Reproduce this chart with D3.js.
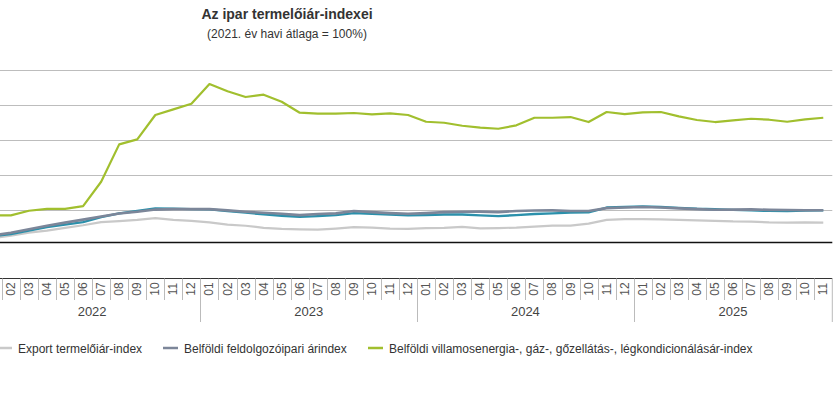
<!DOCTYPE html>
<html>
<head>
<meta charset="utf-8">
<script src="https://cdn.jsdelivr.net/npm/d3@7"></script>
<style>
  body { margin: 0; background: #fff; }
  svg { display: block; font-family: "Liberation Sans", Arial, sans-serif; }
</style>
</head>
<body>
<script>
// months Jan 2022 .. Nov 2025
var years = ["2022", "2023", "2024", "2025"];
var monthLabels = ["01","02","03","04","05","06","07","08","09","10","11","12"];
var months = [];
years.forEach(function(y) {
    monthLabels.forEach(function(m) {
        if (!(y == "2025" && m == "12")) months.push(y + "-" + m);
    });
});

var seriesNames = [
    "Export termelőiár-index",
    "Belföldi feldolgozóipari árindex",
    "Belföldi villamosenergia-, gáz-, gőzellátás-, légkondicionálásár-index"
];

var exportIdx = [109.3, 112.9, 117.1, 120, 124, 127.6, 132.1, 133.6, 135.4, 137.9, 135.4, 134,
    131.7, 128.6, 126.9, 124, 122.4, 121.6, 121.3, 122.9, 125, 124.3, 122.9, 122.4,
    123.6, 124, 125.3, 123.1, 123.6, 124.3, 125.7, 127.1, 127.1, 130, 135.4, 136.4,
    136.4, 136, 135.4, 134.7, 134, 133.1, 132.9, 131.7, 131.4, 131.7, 131.4];

var domesticManuf = [112.9, 117, 122, 127, 131.4, 135.7, 140, 144.3, 147, 150, 150.7, 150.7,
    150.7, 148.9, 147, 145.4, 144, 142.1, 143.6, 144.6, 147.9, 146.4, 145, 144,
    145, 146.4, 146.9, 147.1, 146.4, 147.9, 148.6, 148.9, 147.9, 147.9, 152.1, 152.9,
    153.6, 152.9, 151.7, 150.7, 149.7, 150, 150.3, 149.6, 149.3, 149, 149];

// teal line, its legend entry is not visible in the picture
var industryTotal = [112.1, 115, 120, 125, 128.6, 132.1, 139.3, 144.6, 147.9, 151.7, 151.4, 150.7,
    150.3, 147.9, 145.7, 143.1, 141.1, 139.6, 140.7, 142.1, 145, 144, 142.9, 141.7,
    142.1, 142.9, 142.9, 141.7, 140.7, 142.1, 143.6, 144.6, 145.7, 146, 152.9, 153.6,
    154.3, 153.6, 152.4, 151.1, 150.4, 149.6, 148.9, 148.1, 147.9, 148.6, 148.9];

var energyIdx = [141.7, 141.7, 148.3, 151.1, 151.1, 155, 189.7, 243.1, 250.3, 285, 293.1, 301.1,
    329.3, 318.9, 310.7, 314, 304, 288.3, 286.9, 286.9, 287.9, 286, 287.4, 285,
    275.4, 274, 269.7, 266.9, 265.4, 270.3, 281.1, 281.1, 282.1, 275, 289.3, 286.4,
    288.9, 289.3, 283.1, 277.9, 275, 277.4, 279.7, 278.3, 275.4, 278.9, 281.1];

var gridTicks = [150, 200, 250, 300, 350];

var W = 840, H = 396;

var svg = d3.select("body").append("svg")
    .attr("width", W)
    .attr("height", H);

// plot runs off the left edge (y axis is cropped away)
var x = d3.scaleBand()
    .domain(months)
    .range([-16.2, 832.3])
    .padding(0);

var y = d3.scaleLinear()
    .domain([103, 350])
    .range([242.5, 69.5]);

var cx = function(i) { return x(months[i]) + x.bandwidth() / 2; };

/* TITLE */
svg.append("text")
    .attr("x", 287).attr("y", 19)
    .attr("text-anchor", "middle")
    .style("font-size", "14px").style("font-weight", "bold")
    .style("fill", "#333")
    .text("Az ipar termelőiár-indexei");

svg.append("text")
    .attr("x", 287).attr("y", 38)
    .attr("text-anchor", "middle")
    .style("font-size", "12px")
    .style("fill", "#333")
    .text("(2021. év havi átlaga = 100%)");

/* GRID */
svg.append("g").selectAll("line")
    .data(gridTicks)
    .enter().append("line")
    .attr("x1", 0).attr("x2", 832.3)
    .attr("y1", function(d) { return Math.round(y(d)) + 0.5; })
    .attr("y2", function(d) { return Math.round(y(d)) + 0.5; })
    .style("stroke", "#bdbdbd").style("stroke-width", 1);

// plot bottom line
svg.append("line")
    .attr("x1", 0).attr("x2", 832.3)
    .attr("y1", y(103)).attr("y2", y(103))
    .style("stroke", "#111").style("stroke-width", 1.6);

/* LINES */
var line = d3.line()
    .x(function(d, i) { return cx(i); })
    .y(function(d) { return y(d); });

var lines = [
    {data: exportIdx, color: "#c9c9c9", w: 2.2},
    {data: industryTotal, color: "#2b90ab", w: 2.4},
    {data: domesticManuf, color: "#7c8699", w: 2.6},
    {data: energyIdx, color: "#a1bf2e", w: 2.2}
];

svg.append("g").selectAll("path")
    .data(lines)
    .enter().append("path")
    .attr("d", function(d) { return line(d.data); })
    .style("fill", "none")
    .style("stroke", function(d) { return d.color; })
    .style("stroke-width", function(d) { return d.w; })
    .style("stroke-linejoin", "round");

/* CATEGORY AXIS */
var axisY = 278.5;
var ax = svg.append("g");

ax.append("line")
    .attr("x1", 0).attr("x2", 832.3)
    .attr("y1", axisY).attr("y2", axisY)
    .style("stroke", "#333").style("stroke-width", 1);

// month separators
ax.selectAll("line.tick")
    .data(months.slice(1).concat(["end"]))
    .enter().append("line")
    .attr("class", "tick")
    .attr("x1", function(d) { return d == "end" ? 832.3 : Math.round(x(d)) + 0.5; })
    .attr("x2", function(d) { return d == "end" ? 832.3 : Math.round(x(d)) + 0.5; })
    .attr("y1", axisY)
    .attr("y2", function(d) { return (d == "end" || d.slice(5) == "01") ? 322 : 300; })
    .style("stroke", "#bbb").style("stroke-width", 1);

// month labels, rotated (the first one falls outside the cropped view)
ax.selectAll("text.month")
    .data(months.filter(function(m, i) { return cx(i) > 0; }))
    .enter().append("text")
    .attr("class", "month")
    .attr("transform", function(d) { return "translate(" + (x(d) + x.bandwidth() / 2 + 4) + "," + 289 + ") rotate(-90)"; })
    .attr("text-anchor", "middle")
    .style("font-size", "12px")
    .style("fill", "#555")
    .text(function(d) { return d.slice(5); });

// year labels
ax.selectAll("text.year")
    .data(years)
    .enter().append("text")
    .attr("class", "year")
    .attr("x", function(d) {
        var ms = months.filter(function(m) { return m.slice(0, 4) == d; });
        var x0 = x(ms[0]), x1 = x(ms[ms.length - 1]) + x.bandwidth();
        return (x0 + x1) / 2;
    })
    .attr("y", 316)
    .attr("text-anchor", "middle")
    .style("font-size", "13px")
    .style("fill", "#444")
    .text(function(d) { return d; });

/* LEGEND */
var legendItems = [
    {name: seriesNames[0], color: "#c9c9c9", x: -3},
    {name: seriesNames[1], color: "#7c8699", x: 163},
    {name: seriesNames[2], color: "#a1bf2e", x: 368}
];

var leg = svg.append("g").selectAll("g")
    .data(legendItems)
    .enter().append("g")
    .attr("transform", function(d) { return "translate(" + d.x + ",348)"; });

leg.append("line")
    .attr("x1", 0).attr("x2", 15)
    .attr("y1", 0).attr("y2", 0)
    .style("stroke", function(d) { return d.color; })
    .style("stroke-width", 2.5);

leg.append("text")
    .attr("x", 21).attr("y", 4.5)
    .style("font-size", "12px")
    .style("fill", "#333")
    .text(function(d) { return d.name; });
</script>
</body>
</html>
